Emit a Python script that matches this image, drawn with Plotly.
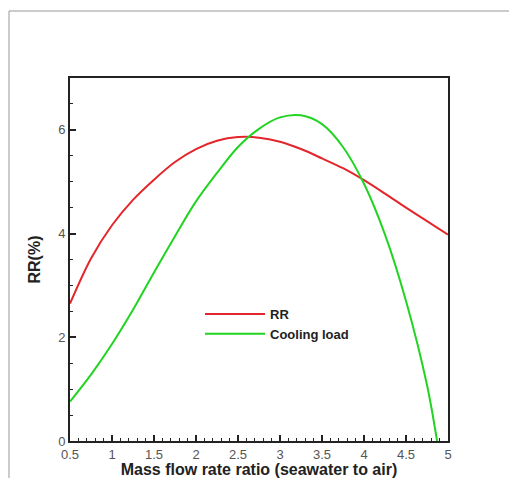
import plotly.graph_objects as go

x_vals = [0.5, 0.75, 1.0, 1.25, 1.5, 1.75, 2.0, 2.25, 2.5, 2.75, 3.0, 3.25, 3.5, 3.75, 4.0, 4.25, 4.5, 4.75, 5.0]
rr_vals = [2.65, 3.52, 4.16, 4.65, 5.04, 5.38, 5.63, 5.79, 5.86, 5.85, 5.77, 5.63, 5.45, 5.26, 5.03, 4.77, 4.50, 4.24, 3.98]

x_cool = [0.5, 0.75, 1.0, 1.25, 1.5, 1.75, 2.0, 2.25, 2.5, 2.75, 3.0, 3.25, 3.5, 3.75, 4.0, 4.25, 4.5, 4.75, 4.87]
cool_vals = [0.76, 1.28, 1.87, 2.53, 3.25, 3.95, 4.62, 5.17, 5.67, 6.02, 6.24, 6.28, 6.11, 5.67, 4.96, 3.98, 2.70, 1.08, 0.0]

x_ticks = [0.5, 1, 1.5, 2, 2.5, 3, 3.5, 4, 4.5, 5]
x_ticklabels = ["0.5", "1", "1.5", "2", "2.5", "3", "3.5", "4", "4.5", "5"]
y_ticks = [0, 2, 4, 6]

FONT = "Liberation Sans, Arial, sans-serif"

fig = go.Figure()
fig.add_trace(go.Scatter(x=x_vals, y=rr_vals, mode="lines", name="RR",
                         line=dict(color="#e3262b", width=2, shape="spline", smoothing=0.9)))
fig.add_trace(go.Scatter(x=x_cool, y=cool_vals, mode="lines", name="Cooling load",
                         line=dict(color="#22d422", width=2, shape="spline", smoothing=0.9)))

L, R, T, B = 70, 448, 78, 441
W, H = 509, 478
pw, ph = R - L, B - T

def px(xp):
    return (xp - L) / pw

def py(yp):
    return (B - yp) / ph

fig.update_layout(
    width=W, height=H,
    margin=dict(l=L, r=W - R, t=T, b=H - B, pad=0, autoexpand=False),
    paper_bgcolor="white", plot_bgcolor="white",
    font=dict(family=FONT, size=12, color="#444"),
    showlegend=True,
    legend=dict(x=px(200), y=py(299), xanchor="left", yanchor="top",
                bgcolor="rgba(0,0,0,0)", itemwidth=60,
                font=dict(family=FONT, size=13, color="#222", weight="bold"),
                tracegroupgap=0),
    xaxis=dict(range=[0.5, 5], tickvals=x_ticks, ticktext=x_ticklabels, automargin=False,
               ticks="inside", ticklen=6, tickwidth=1.5, tickcolor="#222",
               minor=dict(dtick=0.1, ticks="inside", ticklen=3, tickcolor="#222", tickwidth=1),
               showline=True, linecolor="#222", linewidth=2, mirror=True,
               showgrid=False, zeroline=False,
               tickfont=dict(family=FONT, size=13, color="#555"),
               title=dict(text="Mass flow rate ratio (seawater to air)",
                          font=dict(family=FONT, size=16, color="#222", weight="bold"),
                          standoff=0)),
    yaxis=dict(range=[0, 7], tickvals=y_ticks, automargin=False,
               ticks="inside", ticklen=6, tickwidth=1.5, tickcolor="#222",
               minor=dict(dtick=0.5, ticks="inside", ticklen=3, tickcolor="#222", tickwidth=1),
               showline=True, linecolor="#222", linewidth=2, mirror=True,
               showgrid=False, zeroline=False,
               tickfont=dict(family=FONT, size=13, color="#555"),
               title=dict(text="RR(%)",
                          font=dict(family=FONT, size=16, color="#222", weight="bold"),
                          standoff=14)),
    shapes=[
        dict(type="line", xref="paper", yref="paper", x0=px(9), y0=py(11), x1=px(W), y1=py(11),
             line=dict(color="#999", width=1)),
        dict(type="line", xref="paper", yref="paper", x0=px(9), y0=py(11), x1=px(9), y1=py(H),
             line=dict(color="#999", width=1)),
    ],
)

fig.write_html("out.html", config={"displayModeBar": False},
               post_script="document.body.style.margin='0px';document.body.style.overflow='hidden';")
